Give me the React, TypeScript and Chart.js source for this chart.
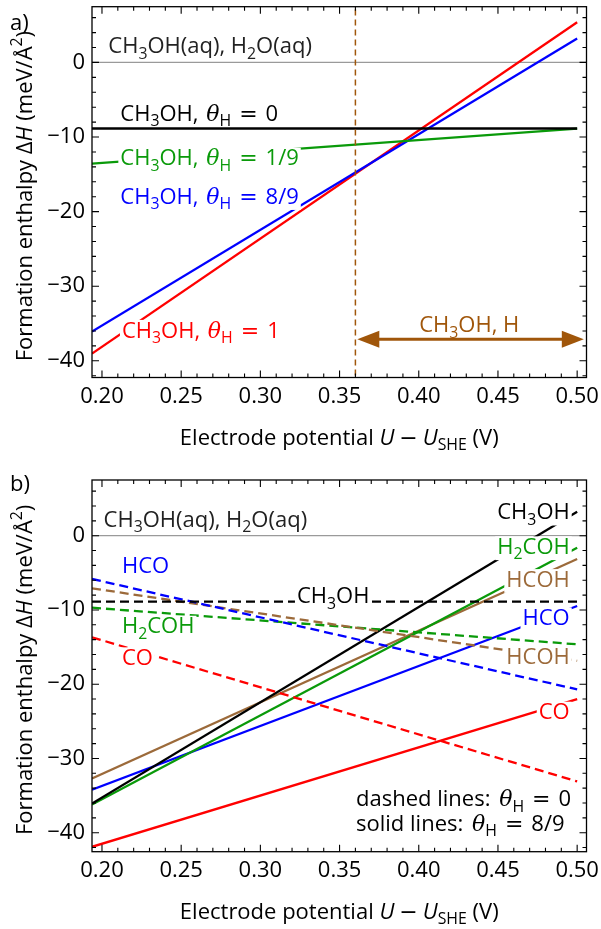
import React, { useEffect, useRef } from "react";
import { Chart, registerables } from "chart.js";
Chart.register(...registerables);

// ---------- data ----------
const uEnds = [0.1937, 0.5]; // electrode potential at line ends (V)
const xTicks = [0.2, 0.25, 0.3, 0.35, 0.4, 0.45, 0.5];
const yTicks = [0, -10, -20, -30, -40];

// panel a: CH3OH at different hydrogen coverages
const aTheta0 = [-8.87, -8.87];
const aTheta1of9 = [-13.57, -8.87];
const aTheta8of9 = [-36.07, 3.22];
const aTheta1 = [-39.03, 5.38];
const aBoundaryU = [0.36, 0.36];
const aArrowU = [0.3612, 0.5042];
const aArrowH = [-37.1, -37.1];

// panel b: dashed θH = 0
const bCH3OH_0 = [-8.87, -8.87];
const bHCO_0 = [-5.83, -20.7];
const bHCOH_0 = [-7.09, -16.85];
const bH2COH_0 = [-9.7, -14.63];
const bCO_0 = [-13.68, -33.1];
// panel b: solid θH = 8/9
const bCH3OH_8 = [-36.07, 3.22];
const bH2COH_8 = [-36.2, -1.62];
const bHCOH_8 = [-32.7, -3.14];
const bHCO_8 = [-34.2, -9.47];
const bCO_8 = [-41.9, -22.0];

// ---------- styles ----------
const FONT = '"Open Sans", sans-serif';
const SERIF = '"DejaVu Serif", serif';
const MATH = '"DejaVu Sans", sans-serif';
const FS = 22;
const RED = "#ff0000";
const BLUE = "#0000ff";
const GREEN = "#0a9a0a";
const BROWN = "#9c6a3a";
const ORANGE = "#a0560a";
const BLACK = "#000000";

type Seg = { t: string; sub?: boolean; sup?: boolean; it?: boolean; serif?: boolean; math?: boolean; gap?: number };

function segFont(s: Seg, size: number) {
  const sz = s.sub || s.sup ? size * 0.72 : size;
  const fam = s.serif ? SERIF : s.math ? MATH : FONT;
  return `${s.it ? "italic " : ""}${sz}px ${fam}`;
}
function segW(ctx: CanvasRenderingContext2D, s: Seg, size: number) {
  if (s.gap) return s.gap;
  ctx.font = segFont(s, size);
  return ctx.measureText(s.t).width;
}
function drawRich(
  ctx: CanvasRenderingContext2D,
  x: number,
  y: number,
  segs: Seg[],
  size: number,
  color: string,
  align: "left" | "center" | "right",
  bg = false
) {
  let w = 0;
  for (const s of segs) w += segW(ctx, s, size);
  let x0 = align === "left" ? x : align === "center" ? x - w / 2 : x - w;
  if (bg) {
    ctx.fillStyle = "#ffffff";
    ctx.fillRect(x0 - 2, y - size * 0.8, w + 4, size * 1.08);
  }
  ctx.fillStyle = color;
  ctx.textAlign = "left";
  ctx.textBaseline = "alphabetic";
  for (const s of segs) {
    const sw = segW(ctx, s, size);
    if (!s.gap) {
      ctx.font = segFont(s, size);
      const dy = s.sub ? size * 0.24 : s.sup ? -size * 0.42 : 0;
      ctx.fillText(s.t, x0, y + dy);
    }
    x0 += sw;
  }
}

const CH3OH: Seg[] = [{ t: "CH" }, { t: "3", sub: true }, { t: "OH" }];
const theta = (v: string): Seg[] => [
  { t: "θ", it: true, serif: true },
  { t: "H", sub: true },
  { t: "", gap: 8 },
  { t: "=", math: true },
  { t: "", gap: 8 },
  { t: v },
];
const AQ: Seg[] = [
  { t: "CH" }, { t: "3", sub: true }, { t: "OH(aq), H" }, { t: "2", sub: true }, { t: "O(aq)" },
];
const H2COH: Seg[] = [{ t: "H" }, { t: "2", sub: true }, { t: "COH" }];
const COMMA: Seg[] = [{ t: ", " }, { t: "", gap: 2 }];

type Label = { x: number; y: number; segs: Seg[]; color: string; align: "left" | "center" | "right"; bg: boolean };

const labelsA: Label[] = [
  { x: 0.204, y: 1.21, segs: AQ, color: "#222", align: "left", bg: false },
  { x: 0.2116, y: -7.85, segs: [...CH3OH, ...COMMA, ...theta("0")], color: BLACK, align: "left", bg: false },
  { x: 0.2116, y: -13.8, segs: [...CH3OH, ...COMMA, ...theta("1/9")], color: GREEN, align: "left", bg: true },
  { x: 0.2116, y: -18.95, segs: [...CH3OH, ...COMMA, ...theta("8/9")], color: BLUE, align: "left", bg: true },
  { x: 0.2126, y: -36.88, segs: [...CH3OH, ...COMMA, ...theta("1")], color: RED, align: "left", bg: true },
  { x: 0.4319, y: -36.2, segs: [...CH3OH, { t: ", H" }], color: ORANGE, align: "center", bg: false },
];

const labelsB: Label[] = [
  { x: 0.201, y: 1.21, segs: AQ, color: "#222", align: "left", bg: false },
  { x: 0.2126, y: -5.06, segs: [{ t: "HCO" }], color: BLUE, align: "left", bg: true },
  { x: 0.2126, y: -13.15, segs: H2COH, color: GREEN, align: "left", bg: true },
  { x: 0.2126, y: -17.41, segs: [{ t: "CO" }], color: RED, align: "left", bg: true },
  { x: 0.3231, y: -9.1, segs: CH3OH, color: BLACK, align: "left", bg: true },
  { x: 0.4953, y: 2.2, segs: CH3OH, color: BLACK, align: "right", bg: true },
  { x: 0.4953, y: -2.46, segs: H2COH, color: GREEN, align: "right", bg: true },
  { x: 0.4953, y: -6.87, segs: [{ t: "HCOH" }], color: BROWN, align: "right", bg: true },
  { x: 0.4953, y: -12.03, segs: [{ t: "HCO" }], color: BLUE, align: "right", bg: true },
  { x: 0.4953, y: -17.28, segs: [{ t: "HCOH" }], color: BROWN, align: "right", bg: true },
  { x: 0.4953, y: -24.73, segs: [{ t: "CO" }], color: RED, align: "right", bg: true },
  { x: 0.3604, y: -36.45, segs: [{ t: "dashed lines: " }, { t: "", gap: 3 }, ...theta("0")], color: BLACK, align: "left", bg: false },
  { x: 0.3604, y: -39.8, segs: [{ t: "solid lines: " }, { t: "", gap: 3 }, ...theta("8/9")], color: BLACK, align: "left", bg: false },
];

const xTitle: Seg[] = [
  { t: "Electrode potential " }, { t: "U", it: true }, { t: "", gap: 5 }, { t: "−", math: true }, { t: "", gap: 5 },
  { t: "U", it: true }, { t: "SHE", sub: true }, { t: " (V)" },
];
const yTitle: Seg[] = [
  { t: "Formation enthalpy " }, { t: "Δ" }, { t: "H", it: true }, { t: " (meV/Å" }, { t: "2", sup: true }, { t: ")" },
];

function line(xs: number[], ys: number[], color: string, dash: number[] = [], width = 2) {
  return {
    data: xs.map((x, i) => ({ x, y: ys[i] })),
    borderColor: color,
    borderWidth: width,
    borderDash: dash,
    pointRadius: 0,
    fill: false,
    tension: 0,
  };
}

function makeConfig(
  datasets: any[],
  labels: Label[],
  yMin: number,
  yMax: number,
  panel: string,
  top: number,
  axisH: number,
  arrow: boolean
) {
  const decor = {
    id: "decor" + panel,
    beforeDatasetsDraw(chart: any) {
      const { ctx, chartArea: a, scales } = chart;
      const y0 = scales.y.getPixelForValue(0);
      ctx.save();
      ctx.strokeStyle = "#9a9a9a";
      ctx.lineWidth = 1.2;
      ctx.beginPath();
      ctx.moveTo(a.left, y0);
      ctx.lineTo(a.right, y0);
      ctx.stroke();
      ctx.restore();
    },
    afterDatasetsDraw(chart: any) {
      const { ctx, chartArea: a, scales } = chart;
      const xs = scales.x, ys = scales.y;
      ctx.save();
      if (arrow) {
        const x1 = xs.getPixelForValue(aArrowU[0]);
        const x2 = xs.getPixelForValue(aArrowU[1]);
        const yy = ys.getPixelForValue(aArrowH[0]);
        ctx.strokeStyle = ORANGE;
        ctx.fillStyle = ORANGE;
        ctx.lineWidth = 3;
        ctx.beginPath();
        ctx.moveTo(x1 + 10, yy);
        ctx.lineTo(x2 - 10, yy);
        ctx.stroke();
        const L = 22, H = 8.5;
        ctx.beginPath();
        ctx.moveTo(x1, yy);
        ctx.lineTo(x1 + L, yy - H);
        ctx.lineTo(x1 + L, yy + H);
        ctx.closePath();
        ctx.fill();
        ctx.beginPath();
        ctx.moveTo(x2, yy);
        ctx.lineTo(x2 - L, yy - H);
        ctx.lineTo(x2 - L, yy + H);
        ctx.closePath();
        ctx.fill();
      }
      for (const lb of labels) {
        drawRich(ctx, xs.getPixelForValue(lb.x), ys.getPixelForValue(lb.y), lb.segs, FS, lb.color, lb.align, lb.bg);
      }
      // frame
      ctx.strokeStyle = "#000";
      ctx.lineWidth = 1.3;
      ctx.strokeRect(a.left, a.top, a.right - a.left, a.bottom - a.top);
      // ticks
      ctx.lineWidth = 1.1;
      ctx.beginPath();
      for (let k = 20; k <= 50; k++) {
        const px = xs.getPixelForValue(k / 100);
        const len = k % 5 === 0 ? 7 : 4;
        ctx.moveTo(px, a.bottom);
        ctx.lineTo(px, a.bottom - len);
        ctx.moveTo(px, a.top);
        ctx.lineTo(px, a.top + len);
      }
      for (let v = -42; v <= 6; v += 2) {
        if (v < yMin || v > yMax) continue;
        const py = ys.getPixelForValue(v);
        const len = v % 10 === 0 ? 7 : 4;
        ctx.moveTo(a.left, py);
        ctx.lineTo(a.left + len, py);
        ctx.moveTo(a.right, py);
        ctx.lineTo(a.right - len, py);
      }
      ctx.stroke();
      drawRich(ctx, 10, panel === "a" ? 30 : 27, [{ t: panel + ")" }], FS, BLACK, "left");
      const cx = (a.left + a.right) / 2;
      drawRich(ctx, cx, a.bottom + 67.5, xTitle, FS, BLACK, "center");
      ctx.translate(31.5, (a.top + a.bottom) / 2 + 4);
      ctx.rotate(-Math.PI / 2);
      drawRich(ctx, 0, 0, yTitle, FS, BLACK, "center");
      ctx.restore();
    },
  };
  return {
    type: "line",
    data: { datasets },
    options: {
      animation: false,
      responsive: false,
      devicePixelRatio: 1,
      layout: { padding: { left: 0, right: 14.5, top, bottom: 0 } },
      plugins: { legend: { display: false }, tooltip: { enabled: false } },
      scales: {
        x: {
          type: "linear",
          min: uEnds[0],
          max: 0.5059,
          grid: { display: false, drawTicks: false },
          border: { display: false },
          afterFit: (s: any) => {
            s.height = axisH;
            s.paddingLeft = 0;
            s.paddingRight = 0;
          },
          afterBuildTicks: (s: any) => { s.ticks = xTicks.map((v) => ({ value: v })); },
          ticks: {
            padding: 6,
            color: "#000",
            font: { family: FONT, size: FS },
            maxRotation: 0,
            autoSkip: false,
            callback: (v: any) => Number(v).toFixed(2),
          },
        },
        y: {
          type: "linear",
          min: yMin,
          max: yMax,
          grid: { display: false, drawTicks: false },
          border: { display: false },
          afterFit: (s: any) => {
            s.width = 92;
            s.paddingTop = 0;
            s.paddingBottom = 0;
          },
          afterBuildTicks: (s: any) => { s.ticks = yTicks.map((v) => ({ value: v })); },
          ticks: {
            padding: 7,
            color: "#000",
            font: { family: FONT, size: FS },
            autoSkip: false,
            callback: (v: any) => (v < 0 ? "−" + Math.abs(v) : String(v)),
          },
        },
      },
    },
    plugins: [decor],
  } as any;
}

function Panel({ cfg, height }: { cfg: any; height: number }) {
  const ref = useRef<HTMLCanvasElement>(null);
  useEffect(() => {
    const chart = new Chart(ref.current as HTMLCanvasElement, cfg);
    return () => chart.destroy();
  }, []);
  return <canvas ref={ref} width={601} height={height} style={{ display: "block", width: 601, height }} />;
}

export default function App() {
  const dsA = [
    line(aBoundaryU, [-50, 20], ORANGE, [6, 4], 1.5),
    line(uEnds, aTheta0, BLACK, [], 2.5),
    line(uEnds, aTheta1of9, GREEN, [], 2.3),
    line(uEnds, aTheta8of9, BLUE, [], 2.3),
    line(uEnds, aTheta1, RED, [], 2.3),
  ];
  const D = [9, 5];
  const W = 2.3;
  const dsB = [
    line(uEnds, bCH3OH_0, BLACK, D, W),
    line(uEnds, bHCO_0, BLUE, D, W),
    line(uEnds, bHCOH_0, BROWN, D, W),
    line(uEnds, bH2COH_0, GREEN, D, W),
    line(uEnds, bCO_0, RED, D, W),
    line(uEnds, bCH3OH_8, BLACK, [], W),
    line(uEnds, bH2COH_8, GREEN, [], W),
    line(uEnds, bHCOH_8, BROWN, [], W),
    line(uEnds, bHCO_8, BLUE, [], W),
    line(uEnds, bCO_8, RED, [], W),
  ];
  const cfgA = makeConfig(dsA, labelsA, -42.24, 7.47, "a", 6.7, 464 - 377.5, true);
  const cfgB = makeConfig(dsB, labelsB, -42.56, 7.5, "b", 16, 465 - 387.7, false);
  return (
    <div style={{ position: "absolute", left: 0, top: 0, width: 601, height: 929, background: "#fff" }}>
      <Panel cfg={cfgA} height={464} />
      <Panel cfg={cfgB} height={465} />
    </div>
  );
}
